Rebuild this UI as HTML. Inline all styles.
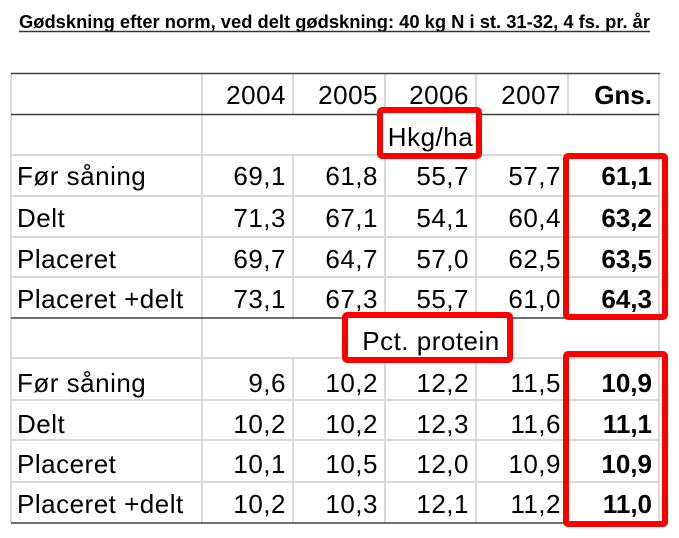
<!DOCTYPE html>
<html>
<head>
<meta charset="utf-8">
<style>
html,body{margin:0;padding:0;background:#fff;}
svg{display:block;}
text{font-family:"Liberation Sans",sans-serif;fill:#000;}
.t{font-size:26px;letter-spacing:0.5px;}
.b{font-size:26px;font-weight:bold;}
</style>
</head>
<body>
<svg width="679" height="538" viewBox="0 0 679 538" xmlns="http://www.w3.org/2000/svg">
<rect width="679" height="538" fill="#fff"/>
<!-- title -->
<text x="19" y="28" font-size="18" font-weight="bold" fill="#1a1a1a" textLength="631" lengthAdjust="spacingAndGlyphs">Gødskning efter norm, ved delt gødskning: 40 kg N i st. 31-32, 4 fs. pr. år</text>
<line x1="19" y1="31.5" x2="650" y2="31.5" stroke="#333" stroke-width="1.5"/>

<!-- light horizontal lines -->
<g stroke="#d9d9d9" stroke-width="2">
<line x1="11" y1="155" x2="659" y2="155"/>
<line x1="11" y1="196" x2="659" y2="196"/>
<line x1="11" y1="237" x2="659" y2="237"/>
<line x1="11" y1="277" x2="659" y2="277"/>
<line x1="11" y1="358" x2="659" y2="358"/>
<line x1="11" y1="400" x2="659" y2="400"/>
<line x1="11" y1="440" x2="659" y2="440"/>
<line x1="11" y1="482" x2="659" y2="482"/>
<!-- vertical lines -->
<line x1="11" y1="73" x2="11" y2="523"/>
<line x1="202" y1="73" x2="202" y2="523"/>
<line x1="659" y1="73" x2="659" y2="523"/>
<line x1="293" y1="73" x2="293" y2="114"/>
<line x1="385" y1="73" x2="385" y2="114"/>
<line x1="476" y1="73" x2="476" y2="114"/>
<line x1="568" y1="73" x2="568" y2="114"/>
<line x1="293" y1="155" x2="293" y2="318"/>
<line x1="385" y1="155" x2="385" y2="318"/>
<line x1="476" y1="155" x2="476" y2="318"/>
<line x1="568" y1="155" x2="568" y2="318"/>
<line x1="293" y1="358" x2="293" y2="523"/>
<line x1="385" y1="358" x2="385" y2="523"/>
<line x1="476" y1="358" x2="476" y2="523"/>
<line x1="568" y1="358" x2="568" y2="523"/>
</g>
<!-- dark horizontal lines -->
<g stroke="#404040" stroke-width="1.6">
<line x1="11" y1="73.5" x2="660" y2="73.5"/>
<line x1="11" y1="114.5" x2="659" y2="114.5"/>
<line x1="11" y1="318" x2="659" y2="318"/>
<line x1="11" y1="523" x2="659" y2="523"/>
</g>

<!-- header -->
<g class="t" text-anchor="end">
<text x="286" y="104">2004</text>
<text x="378" y="104">2005</text>
<text x="469" y="104">2006</text>
<text x="561" y="104">2007</text>
</g>
<text class="b" x="652" y="104" text-anchor="end">Gns.</text>

<!-- red boxes with white fill for unit labels -->
<rect x="380" y="110" width="99" height="46" rx="2" fill="#fff" stroke="#ff0000" stroke-width="6"/>
<rect x="345" y="315" width="165" height="45" rx="2" fill="#fff" stroke="#ff0000" stroke-width="6"/>

<text class="t" x="430.5" y="146" text-anchor="middle">Hkg/ha</text>
<text class="t" x="431" y="350" text-anchor="middle">Pct. protein</text>

<!-- labels -->
<g class="t">
<text x="17" y="185">Før såning</text>
<text x="17" y="227">Delt</text>
<text x="17" y="268">Placeret</text>
<text x="17" y="308">Placeret +delt</text>
<text x="17" y="392">Før såning</text>
<text x="17" y="433">Delt</text>
<text x="17" y="473">Placeret</text>
<text x="17" y="513">Placeret +delt</text>
</g>

<!-- values block 1 -->
<g class="t" text-anchor="end">
<text x="286" y="185">69,1</text><text x="378" y="185">61,8</text><text x="469" y="185">55,7</text><text x="561" y="185">57,7</text>
<text x="286" y="227">71,3</text><text x="378" y="227">67,1</text><text x="469" y="227">54,1</text><text x="561" y="227">60,4</text>
<text x="286" y="268">69,7</text><text x="378" y="268">64,7</text><text x="469" y="268">57,0</text><text x="561" y="268">62,5</text>
<text x="286" y="308">73,1</text><text x="378" y="308">67,3</text><text x="469" y="308">55,7</text><text x="561" y="308">61,0</text>
<text x="286" y="392">9,6</text><text x="378" y="392">10,2</text><text x="469" y="392">12,2</text><text x="561" y="392">11,5</text>
<text x="286" y="433">10,2</text><text x="378" y="433">10,2</text><text x="469" y="433">12,3</text><text x="561" y="433">11,6</text>
<text x="286" y="473">10,1</text><text x="378" y="473">10,5</text><text x="469" y="473">12,0</text><text x="561" y="473">10,9</text>
<text x="286" y="513">10,2</text><text x="378" y="513">10,3</text><text x="469" y="513">12,1</text><text x="561" y="513">11,2</text>
</g>
<g class="b" text-anchor="end">
<text x="652" y="185">61,1</text>
<text x="652" y="227">63,2</text>
<text x="652" y="268">63,5</text>
<text x="652" y="308">64,3</text>
<text x="652" y="392">10,9</text>
<text x="652" y="433">11,1</text>
<text x="652" y="473">10,9</text>
<text x="652" y="513">11,0</text>
</g>

<!-- red boxes around averages -->
<rect x="566" y="156" width="99" height="161" rx="2" fill="none" stroke="#ff0000" stroke-width="6"/>
<rect x="566" y="354" width="99" height="170" rx="2" fill="none" stroke="#ff0000" stroke-width="6"/>
</svg>
</body>
</html>
